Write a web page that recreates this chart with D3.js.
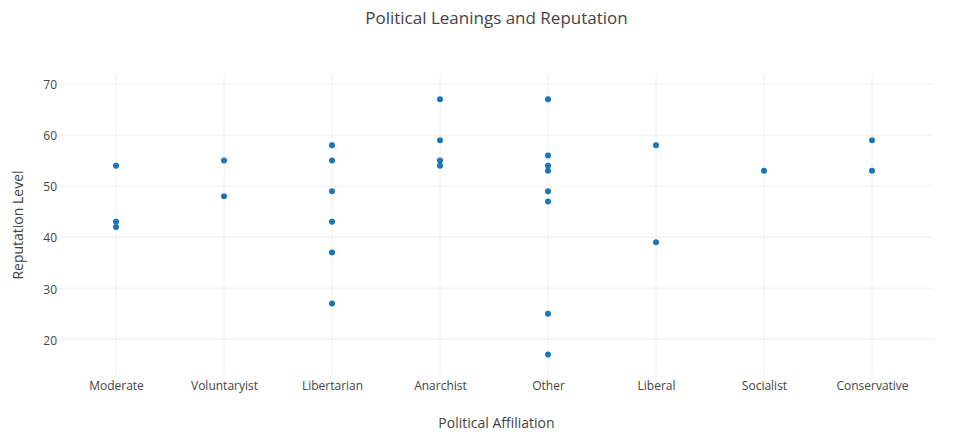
<!doctype html>
<html>
<head>
  <title>Political Leanings and Reputation</title>
  <script src="https://d3js.org/d3.v7.min.js"></script>
  <style>
    body { margin:0; background:#fff; }
    text { font-family: "Open Sans", sans-serif; fill:#444; }
  </style>
</head>
<body>
  <script>
    // categories along the x axis
    var affiliations = ["Moderate", "Voluntaryist", "Libertarian", "Anarchist",
      "Other", "Liberal", "Socialist", "Conservative"];

    // reputation values read for each affiliation
    var moderate = [54, 43, 42];
    var voluntaryist = [55, 48];
    var libertarian = [58, 55, 49, 43, 37, 27];
    var anarchist = [67, 59, 55, 54];
    var other = [67, 56, 54, 53, 49, 47, 25, 17];
    var liberal = [58, 39];
    var socialist = [53];
    var conservative = [59, 53];

    var yTicks = [20, 30, 40, 50, 60, 70];

    var groups = [moderate, voluntaryist, libertarian, anarchist,
      other, liberal, socialist, conservative];

    // flatten to points
    var points = [];
    groups.forEach(function(vals, i){
      vals.forEach(function(v){
        points.push({ affiliation: affiliations[i], reputation: v });
      });
    });

    var width = 974;
    var height = 441;
    var plot = { left: 60, right: 933, top: 75, bottom: 375 };

    var svg = d3.select("body").append("svg")
      .attr("width", width)
      .attr("height", height);

    var xScale = d3.scalePoint()
      .domain(affiliations)
      .range([116, 872])
      .padding(0);

    var yScale = d3.scaleLinear()
      .domain([13.0, 71.76])
      .range([plot.bottom, plot.top]);

    // vertical gridlines
    svg.append("g")
      .selectAll("line")
      .data(affiliations)
      .enter()
      .append("line")
      .attr("x1", function(d){ return xScale(d); })
      .attr("x2", function(d){ return xScale(d); })
      .attr("y1", plot.top)
      .attr("y2", plot.bottom)
      .attr("stroke", "#eee")
      .attr("stroke-width", 1);

    // horizontal gridlines
    svg.append("g")
      .selectAll("line")
      .data(yTicks)
      .enter()
      .append("line")
      .attr("x1", plot.left)
      .attr("x2", plot.right)
      .attr("y1", function(d){ return yScale(d); })
      .attr("y2", function(d){ return yScale(d); })
      .attr("stroke", "#eee")
      .attr("stroke-width", 1);

    // y axis labels
    var leftAxis = d3.axisLeft(yScale)
      .tickValues(yTicks)
      .tickSize(0)
      .tickPadding(3);

    var yAxisG = svg.append("g")
      .attr("transform", "translate(" + plot.left + ",1)")
      .call(leftAxis);
    yAxisG.select(".domain").remove();
    yAxisG.selectAll("text")
      .attr("font-family", "Open Sans, sans-serif")
      .attr("font-size", 12)
      .attr("fill", "#444");

    // x axis labels
    var bottomAxis = d3.axisBottom(xScale)
      .tickSize(0)
      .tickPadding(6);

    var xAxisG = svg.append("g")
      .attr("transform", "translate(0," + plot.bottom + ")")
      .call(bottomAxis);
    xAxisG.select(".domain").remove();
    xAxisG.selectAll("text")
      .attr("font-family", "Open Sans, sans-serif")
      .attr("font-size", 12)
      .attr("fill", "#444");

    // points
    svg.append("g")
      .selectAll("circle")
      .data(points)
      .enter()
      .append("circle")
      .attr("cx", function(d){ return xScale(d.affiliation); })
      .attr("cy", function(d){ return yScale(d.reputation); })
      .attr("r", 3)
      .attr("fill", "#1a76b4");

    // title
    svg.append("text")
      .attr("x", (plot.left + plot.right) / 2)
      .attr("y", 24)
      .attr("text-anchor", "middle")
      .attr("font-size", 17)
      .text("Political Leanings and Reputation");

    // axis titles
    svg.append("text")
      .attr("x", (plot.left + plot.right) / 2)
      .attr("y", 428)
      .attr("text-anchor", "middle")
      .attr("font-size", 14)
      .text("Political Affiliation");

    svg.append("text")
      .attr("transform", "translate(23," + (plot.top + plot.bottom) / 2 + ") rotate(-90)")
      .attr("text-anchor", "middle")
      .attr("font-size", 14)
      .text("Reputation Level");
  </script>
</body>
</html>
